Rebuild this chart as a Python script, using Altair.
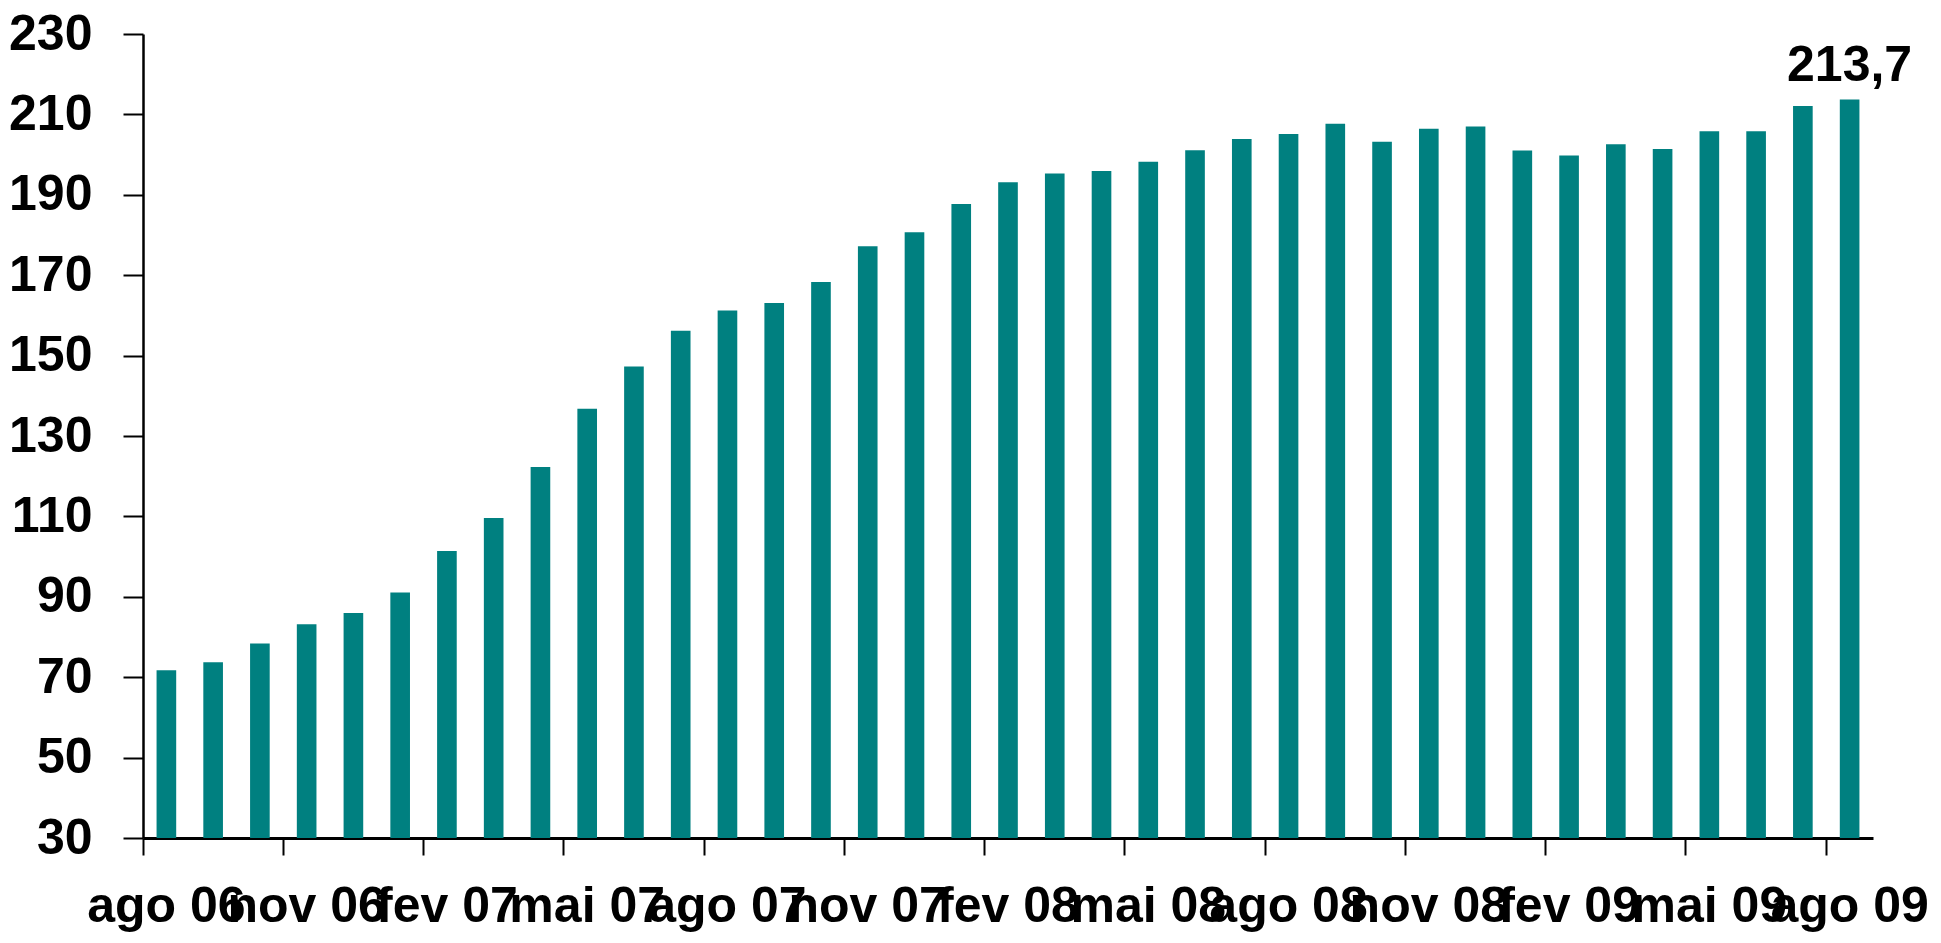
import altair as alt
import pandas as pd

months = ["ago 06", "set 06", "out 06", "nov 06", "dez 06",
          "jan 07", "fev 07", "mar 07", "abr 07", "mai 07", "jun 07",
          "jul 07", "ago 07", "set 07", "out 07", "nov 07", "dez 07",
          "jan 08", "fev 08", "mar 08", "abr 08", "mai 08", "jun 08",
          "jul 08", "ago 08", "set 08", "out 08", "nov 08", "dez 08",
          "jan 09", "fev 09", "mar 09", "abr 09", "mai 09", "jun 09",
          "jul 09", "ago 09"]
values = [71.7, 73.7, 78.4, 83.2, 86.0, 91.1, 101.4, 109.6, 122.3, 136.8,
          147.3, 156.2, 161.2, 163.1, 168.3, 177.2, 180.7, 187.7, 193.1,
          195.3, 195.9, 198.2, 201.1, 203.9, 205.1, 207.7, 203.2, 206.4,
          207.0, 201.0, 199.8, 202.6, 201.4, 205.8, 205.8, 212.1, 213.7]
tick_labels = ["ago 06", "nov 06", "fev 07", "mai 07", "ago 07", "nov 07",
               "fev 08", "mai 08", "ago 08", "nov 08", "fev 09", "mai 09",
               "ago 09"]
y_ticks = [30, 50, 70, 90, 110, 130, 150, 170, 190, 210, 230]
annotated = ["ago 09"]

df = pd.DataFrame({"mes": months, "valor": values})

FONT = "Liberation Sans"
FS = 50

x_enc = alt.X(
    "mes:N", sort=months, title=None,
    scale=alt.Scale(paddingInner=0, paddingOuter=0),
    axis=alt.Axis(values=tick_labels, bandPosition=0, labelAngle=0,
                  labelFont=FONT, labelFontSize=FS, labelFontWeight="bold",
                  labelColor="black", labelOverlap=False, labelFlush=False,
                  labelBound=False, labelPadding=26, tickSize=17,
                  tickWidth=2, tickColor="black", domainColor="black",
                  domainWidth=3, grid=False),
)
y_enc = alt.Y(
    "valor:Q", title=None,
    scale=alt.Scale(domain=[30, 230], zero=False, nice=False),
    axis=alt.Axis(values=y_ticks, labelFont=FONT, labelFontSize=FS,
                  labelFontWeight="bold", labelColor="black",
                  labelPadding=31, tickSize=20, tickWidth=2,
                  tickColor="black", domainColor="black", domainWidth=2.5,
                  grid=False),
)

bars = alt.Chart(df).mark_bar(
    color="#008080", width=alt.RelativeBandSize(0.42)
).encode(x=x_enc, y=y_enc, y2=alt.datum(30))

label = alt.Chart(df).transform_filter(
    alt.FieldOneOfPredicate(field="mes", oneOf=annotated)
).transform_calculate(
    txt="replace(format(datum.valor, '.1f'), '.', ',')"
).mark_text(
    font=FONT, fontSize=FS, fontWeight="bold", color="black",
    baseline="alphabetic", align="center", dy=-19
).encode(x=alt.X("mes:N", sort=months), y="valor:Q", text="txt:N")

chart = alt.layer(bars, label).properties(
    width=1730, height=804,
    autosize=alt.AutoSizeParams(type="none"),
    padding={"left": 135, "top": 26, "right": 58, "bottom": 97},
).configure(background="white").configure_view(stroke=None)

chart.save("out.html", embed_options={"renderer": "svg", "actions": False})
